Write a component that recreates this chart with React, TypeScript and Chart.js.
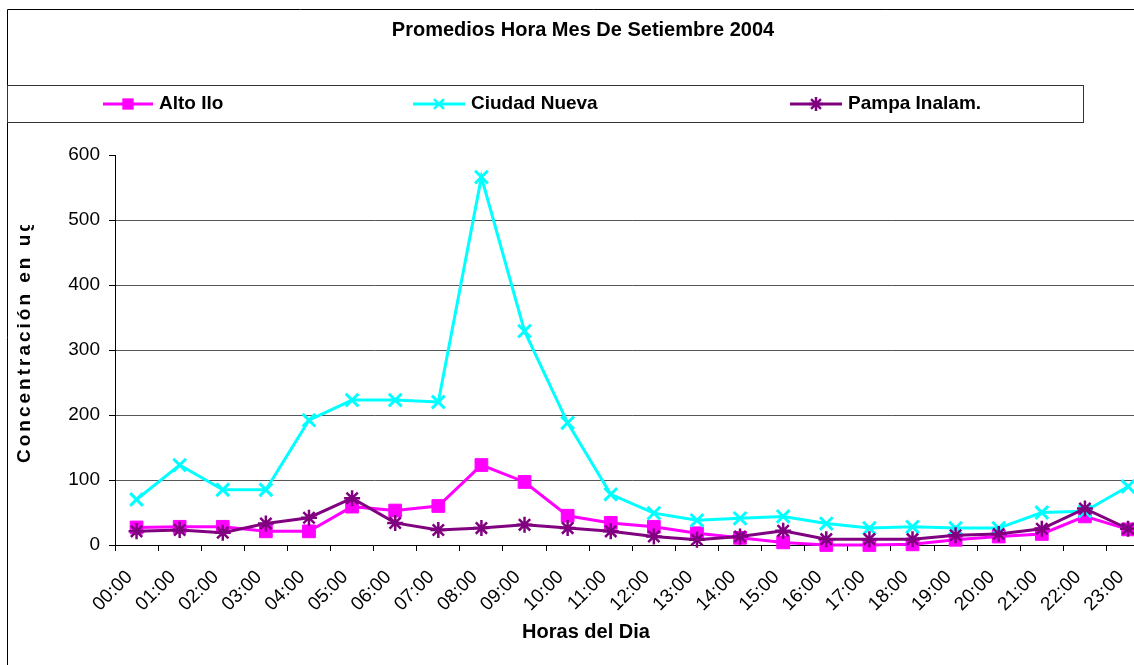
import React, { useEffect, useRef } from 'react';
import { Chart, registerables } from 'chart.js';

Chart.register(...registerables);

const chartTitle = 'Promedios Hora Mes De Setiembre 2004';
const xTitle = 'Horas del Dia';
const yTitle = 'Concentración en ug/m3';

const hours = [
  '00:00', '01:00', '02:00', '03:00', '04:00', '05:00', '06:00', '07:00',
  '08:00', '09:00', '10:00', '11:00', '12:00', '13:00', '14:00', '15:00',
  '16:00', '17:00', '18:00', '19:00', '20:00', '21:00', '22:00', '23:00',
];

const seriesNames = ['Alto Ilo', 'Ciudad Nueva', 'Pampa Inalam.'];

const altoIlo = [27, 28, 28, 21, 21, 59, 53, 60, 123, 97, 45, 34, 28, 18, 11, 4, 0, 0, 1, 8, 13, 17, 44, 24];
const ciudadNueva = [70, 123, 85, 85, 192, 223, 223, 220, 566, 329, 188, 78, 49, 38, 41, 44, 33, 26, 28, 26, 26, 50, 52, 90];
const pampaInalam = [21, 23, 19, 33, 42, 72, 34, 23, 26, 31, 26, 21, 13, 8, 13, 22, 9, 9, 9, 15, 17, 25, 56, 25];

const yTicks = [0, 100, 200, 300, 400, 500, 600];

const COLORS = ['#FF00FF', '#00FFFF', '#800080'];
const STYLES = ['rect', 'crossRot', 'star'];
const FONT = '"Liberation Sans", Arial, Helvetica, sans-serif';

const CANVAS_W = 1180;
const CANVAS_H = 665;
const AREA_LEFT = 115;
const AREA_RIGHT = 1149.6;
const AREA_TOP = 155;
const AREA_BOTTOM = 545;

function drawMarker(ctx: CanvasRenderingContext2D, style: string, x: number, y: number, r: number, color: string, bw: number) {
  ctx.save();
  ctx.strokeStyle = color;
  ctx.fillStyle = color;
  ctx.lineWidth = bw;
  ctx.beginPath();
  if (style === 'rect') {
    const s = r * Math.SQRT1_2;
    ctx.rect(x - s, y - s, 2 * s, 2 * s);
    ctx.fill();
  } else {
    const d = r * Math.SQRT1_2;
    ctx.moveTo(x - d, y - d); ctx.lineTo(x + d, y + d);
    ctx.moveTo(x + d, y - d); ctx.lineTo(x - d, y + d);
    if (style === 'star') {
      ctx.moveTo(x, y - r); ctx.lineTo(x, y + r);
      ctx.moveTo(x - r, y); ctx.lineTo(x + r, y);
    }
    ctx.stroke();
  }
  ctx.restore();
}

const legendPos = [
  { x0: 103, x1: 153, tx: 159 },
  { x0: 413, x1: 465, tx: 471 },
  { x0: 790, x1: 842, tx: 848 },
];

const decor = {
  id: 'decor',
  beforeDraw(chart: any) {
    const ctx: CanvasRenderingContext2D = chart.ctx;
    ctx.save();
    ctx.fillStyle = '#fff';
    ctx.fillRect(0, 0, chart.width, chart.height);
    ctx.strokeStyle = '#000';
    ctx.lineWidth = 1;
    ctx.beginPath();
    ctx.moveTo(7.5, chart.height);
    ctx.lineTo(7.5, 9.5);
    ctx.lineTo(chart.width, 9.5);
    ctx.stroke();
    ctx.strokeStyle = '#333';
    ctx.strokeRect(7.5, 85.5, 1076, 37);
    ctx.restore();
  },
  afterDraw(chart: any) {
    const ctx: CanvasRenderingContext2D = chart.ctx;
    ctx.save();
    ctx.fillStyle = '#000';
    ctx.textBaseline = 'middle';
    // title
    ctx.font = `bold 20px ${FONT}`;
    ctx.textAlign = 'center';
    ctx.fillText(chartTitle, 583, 30);
    // x title
    ctx.fillText(xTitle, 586, 632);
    // legend
    ctx.font = `bold 19px ${FONT}`;
    ctx.textAlign = 'left';
    seriesNames.forEach((name, i) => {
      const p = legendPos[i];
      ctx.save();
      ctx.strokeStyle = COLORS[i];
      ctx.lineWidth = 3;
      ctx.beginPath();
      ctx.moveTo(p.x0, 104);
      ctx.lineTo(p.x1, 104);
      ctx.stroke();
      ctx.restore();
      drawMarker(ctx, STYLES[i], (p.x0 + p.x1) / 2, 104, i === 0 ? 8 : 7, COLORS[i], i === 0 ? 1 : 2.5);
      ctx.fillStyle = '#000';
      ctx.fillText(name, p.tx, 104);
    });
    // y title (clipped like the original)
    ctx.save();
    ctx.beginPath();
    ctx.rect(0, 225, 60, 440);
    ctx.clip();
    ctx.translate(25, 463);
    ctx.rotate(-Math.PI / 2);
    ctx.font = `bold 19px ${FONT}`;
    (ctx as any).letterSpacing = '3px';
    ctx.textAlign = 'left';
    ctx.fillText(yTitle, 0, 0);
    ctx.restore();
    ctx.restore();
  },
};

export default function App() {
  const ref = useRef<HTMLCanvasElement | null>(null);
  useEffect(() => {
    if (!ref.current) return;
    const chart = new Chart(ref.current, {
      type: 'line',
      data: {
        labels: hours,
        datasets: [
          {
            label: seriesNames[0], data: altoIlo, borderColor: COLORS[0], backgroundColor: COLORS[0],
            borderWidth: 3, pointStyle: 'rect', pointRadius: 9, pointBorderWidth: 1, tension: 0, clip: false, order: 3,
          },
          {
            label: seriesNames[1], data: ciudadNueva, borderColor: COLORS[1], backgroundColor: COLORS[1],
            borderWidth: 3, pointStyle: 'crossRot', pointRadius: 9, pointBorderWidth: 3, tension: 0, clip: false, order: 2,
          },
          {
            label: seriesNames[2], data: pampaInalam, borderColor: COLORS[2], backgroundColor: COLORS[2],
            borderWidth: 3, pointStyle: 'star', pointRadius: 8, pointBorderWidth: 2.5, tension: 0, clip: false, order: 1,
          },
        ] as any,
      },
      options: {
        animation: false,
        responsive: false,
        events: [],
        layout: { padding: { left: 0, top: AREA_TOP, right: CANVAS_W - AREA_RIGHT, bottom: 0 } },
        plugins: {
          legend: { display: false },
          title: { display: false },
          tooltip: { enabled: false },
        },
        scales: {
          x: {
            type: 'category',
            offset: true,
            grid: { offset: true, drawOnChartArea: false, tickLength: 6, tickColor: '#000', tickWidth: 1 },
            border: { color: '#000', width: 1 },
            ticks: {
              autoSkip: false, minRotation: 45, maxRotation: 45, color: '#000', padding: 15, labelOffset: -7,
              font: { family: FONT, size: 19 },
            },
            afterFit: (s: any) => { s.height = CANVAS_H - AREA_BOTTOM; },
          },
          y: {
            min: yTicks[0],
            max: yTicks[yTicks.length - 1],
            afterBuildTicks: (s: any) => { s.ticks = yTicks.map((v) => ({ value: v })); },
            ticks: { color: '#000', padding: 9, font: { family: FONT, size: 19 } },
            grid: {
              color: (c: any) => (c.tick && (c.tick.value === 0 || c.tick.value === 600) ? 'rgba(0,0,0,0)' : '#555'),
              lineWidth: 1, tickLength: 6, tickColor: '#000',
            },
            border: { color: '#000', width: 1 },
            afterFit: (s: any) => { s.width = AREA_LEFT; },
          },
        },
      } as any,
      plugins: [decor],
    });
    return () => chart.destroy();
  }, []);
  return (
    <div style={{ position: 'fixed', left: 0, top: 0, width: 1134, height: 665, overflow: 'hidden', background: '#fff' }}>
      <canvas ref={ref} width={CANVAS_W} height={CANVAS_H} style={{ display: 'block', width: CANVAS_W, height: CANVAS_H }} />
    </div>
  );
}
